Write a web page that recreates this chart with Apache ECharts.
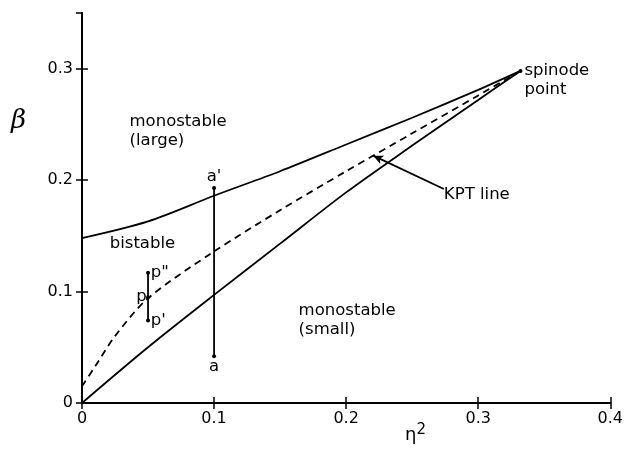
<!DOCTYPE html>
<html><head><meta charset="utf-8">
<script src="https://cdn.jsdelivr.net/npm/echarts@6/dist/echarts.min.js"></script>
<style>html,body{margin:0;padding:0;background:#fff}#c{width:626px;height:450px}</style>
</head><body><div id="c"></div>
<script>
// Data (x = eta^2, y = beta)
var upperBoundary = [[0,0.148],[0.05,0.163],[0.1,0.186],[0.15,0.208],[0.2,0.232],[0.25,0.256],[0.3,0.281],[0.332,0.298]];
var lowerBoundary = [[0,0],[0.05,0.05],[0.1,0.097],[0.15,0.143],[0.2,0.189],[0.25,0.231],[0.3,0.272],[0.332,0.298]];
var kptLine = [[0,0.015],[0.01,0.033],[0.025,0.06],[0.05,0.094],[0.1,0.136],[0.15,0.173],[0.2,0.208],[0.25,0.242],[0.3,0.276],[0.332,0.298]];
var segA = [[0.1,0.042],[0.1,0.193]];
var segP = [[0.05,0.074],[0.05,0.095],[0.05,0.117]];
var spinode = [[0.332,0.298]];
var xTicks = [0,0.1,0.2,0.3,0.4];
var yTicks = [0,0.1,0.2,0.3];
var labels = [
  {text:'monostable\n(large)', at:[0.036,0.244], pos:'right'},
  {text:'bistable', at:[0.021,0.143], pos:'right'},
  {text:'monostable\n(small)', at:[0.164,0.074], pos:'right'},
  {text:'spinode\npoint', at:[0.335,0.290], pos:'right'},
  {text:'KPT line', at:[0.274,0.187], pos:'right'},
  {text:"a'", at:[0.1,0.203], pos:'inside'},
  {text:'a', at:[0.1,0.033], pos:'inside'},
  {text:'p"', at:[0.052,0.117], pos:'right'},
  {text:"p'", at:[0.052,0.074], pos:'right'},
  {text:'p', at:[0.049,0.095], pos:'left'}
];
var arrowKPT = [[0.274,0.192],[0.2205,0.222]];

var FONT = 'DejaVu Sans';
var chart = echarts.init(document.getElementById('c'), null, {renderer:'canvas'});
var blk = '#000';
function fmt(v){ return v===0 ? '0' : (Math.round(v*10)/10).toString(); }
var tickStyle = {show:true,inside:true,length:6,lineStyle:{color:blk,width:1.5}};
var opt = {
  animation:false,
  backgroundColor:'#fff',
  grid:{left:82,right:12,top:13,bottom:47},
  xAxis:[
    {type:'value',min:0,max:0.4,interval:0.1,position:'bottom',
     axisLine:{show:true,lineStyle:{color:blk,width:2}},
     axisTick:tickStyle,
     axisLabel:{color:blk,fontFamily:FONT,fontSize:16,margin:8,formatter:function(v){return xTicks.indexOf(Math.round(v*10)/10)>=0?fmt(v):'';}},
     splitLine:{show:false}},
    {type:'value',min:0,max:0.4,interval:0.1,position:'top',
     axisLine:{show:true,lineStyle:{color:blk,width:2}},
     axisTick:tickStyle,
     axisLabel:{show:false},splitLine:{show:false}}
  ],
  yAxis:[
    {type:'value',min:0,max:0.35,interval:0.1,position:'left',
     axisLine:{show:true,lineStyle:{color:blk,width:2}},
     axisTick:tickStyle,
     axisLabel:{color:blk,fontFamily:FONT,fontSize:16,margin:9,showMaxLabel:false,formatter:function(v){var r=Math.round(v*10)/10;return (yTicks.indexOf(r)>=0 && Math.abs(v-r)<1e-6)?fmt(v):'';}},
     splitLine:{show:false}},
    {type:'value',min:0,max:0.35,interval:0.1,position:'right',
     axisLine:{show:true,lineStyle:{color:blk,width:2}},
     axisTick:tickStyle,
     axisLabel:{show:false},splitLine:{show:false}}
  ],
  graphic:[
    {type:'text',left:11,top:108,style:{text:'β',font:'italic 26px "DejaVu Serif"',fill:blk}},
    {type:'text',left:405,top:423,style:{text:'η{s|2}',rich:{s:{fontSize:15,fontFamily:FONT,verticalAlign:'top',padding:[0,0,10,0]}},fontSize:18,fontFamily:FONT,fill:blk}}
  ],
  series:[
    {type:'line',data:upperBoundary,smooth:0.3,symbol:'none',lineStyle:{color:blk,width:1.8},z:3},
    {type:'line',data:lowerBoundary,smooth:0.3,symbol:'none',lineStyle:{color:blk,width:1.8},z:3},
    {type:'line',data:kptLine,smooth:0.3,symbol:'none',lineStyle:{color:blk,width:1.8,type:[7,5]},z:3},
    {type:'line',data:segA,symbol:'circle',symbolSize:4,itemStyle:{color:blk},lineStyle:{color:blk,width:1.8},z:4},
    {type:'line',data:segP,symbol:'circle',symbolSize:4,itemStyle:{color:blk},lineStyle:{color:blk,width:1.8},z:4},
    {type:'scatter',data:spinode,symbol:'circle',symbolSize:4,itemStyle:{color:blk,opacity:1},z:4},
    {type:'line',data:[],symbol:'none',
     markLine:{silent:true,symbol:['none','arrow'],symbolSize:[7,10],label:{show:false},
       lineStyle:{color:blk,width:1.8,type:'solid',opacity:1},
       data:[[{coord:arrowKPT[0]},{coord:arrowKPT[1]}]]}},
    {type:'scatter',symbolSize:0,z:5,itemStyle:{opacity:1,color:blk},
     label:{show:true,color:'#000'},
     data:labels.map(function(l){return {value:l.at,label:{show:true,formatter:l.text,position:l.pos,distance:0,color:'#000',textBorderWidth:0,fontFamily:FONT,fontSize:16.5,lineHeight:19,align:l.pos==='left'?'right':(l.pos==='inside'?'center':'left')}};})}
  ]
};
chart.setOption(opt);
</script></body></html>
